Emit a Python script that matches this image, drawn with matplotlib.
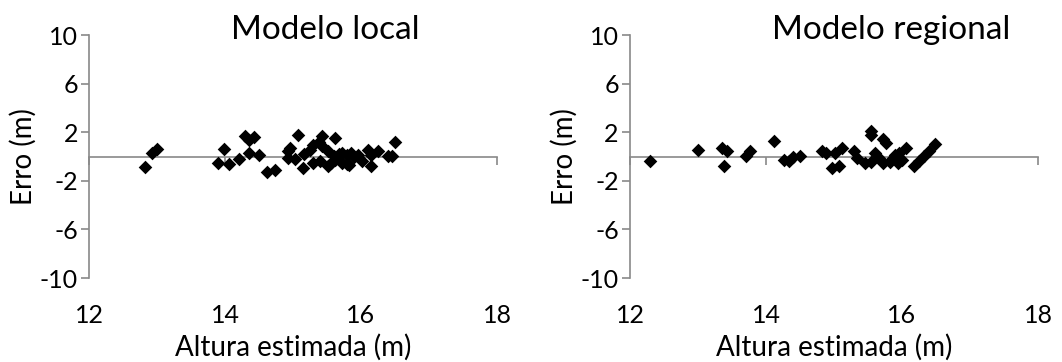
import matplotlib.pyplot as plt

plt.rcParams['font.family'] = ['Lato', 'DejaVu Sans']
plt.rcParams['axes.unicode_minus'] = False

# erro vs altura estimada, modelo local
alt_local = [12.82, 12.93, 13.0, 13.9, 13.98, 14.06, 14.2, 14.3, 14.36, 14.43,
             14.36, 14.5, 14.62, 14.74, 14.92, 14.92, 14.96, 15.08, 15.03, 15.14,
             15.16, 15.25, 15.3, 15.3, 15.42, 15.38, 15.42, 15.52, 15.4, 15.52,
             15.56, 15.62, 15.62, 15.6, 15.68, 15.72, 15.72, 15.8, 15.8, 15.86,
             15.82, 15.9, 15.96, 16.02, 16.1, 16.14, 16.15, 16.25, 16.4, 16.45,
             16.5]
erro_local = [-0.9, 0.3, 0.62, -0.5, 0.65, -0.6, -0.2, 1.7, 1.4, 1.62,
              0.3, 0.15, -1.3, -1.1, 0.45, -0.15, 0.7, 1.75, -0.22, -0.95,
              0.22, 0.55, 0.95, -0.55, 1.67, 1.2, 0.85, 0.45, -0.38, -0.8,
              -0.5, 1.55, -0.25, 0.05, 0.2, 0.3, -0.5, -0.6, 0.15, 0.3,
              -0.7, 0.0, 0.15, -0.38, 0.58, -0.75, 0.15, 0.42, 0.02, 0.05,
              1.18]

# erro vs altura estimada, modelo regional
alt_regional = [12.3, 13.0, 13.35, 13.42, 13.38, 13.7, 13.76, 14.12, 14.27, 14.34,
                14.4, 14.5, 14.82, 14.88, 15.02, 15.12, 14.97, 15.07, 15.3, 15.34,
                15.46, 15.55, 15.54, 15.72, 15.76, 15.6, 15.55, 15.66, 15.72, 15.84,
                15.9, 15.96, 16.06, 16.0, 15.82, 15.94, 16.18, 16.25, 16.32, 16.4,
                16.48]
erro_regional = [-0.4, 0.58, 0.72, 0.42, -0.75, 0.08, 0.42, 1.28, -0.25, -0.35,
                 -0.03, 0.08, 0.42, 0.3, 0.3, 0.7, -0.95, -0.8, 0.42, -0.1,
                 -0.55, 2.1, 1.75, 1.45, 1.12, 0.3, -0.45, -0.1, -0.55, -0.25,
                 0.15, 0.3, 0.7, -0.3, -0.45, -0.5, -0.8, -0.4, 0.03, 0.45,
                 1.0]

x_ticks = [12, 14, 16, 18]
y_ticks = [-10, -6, -2, 2, 6, 10]

cinza = '#898989'

fig = plt.figure(figsize=(10.62, 3.62), dpi=100)
ax1 = fig.add_axes([0.0838, 0.232, 0.3842, 0.671])
ax2 = fig.add_axes([0.5932, 0.232, 0.3842, 0.671])

paineis = [
    (ax1, alt_local, erro_local, 'Modelo local', 0.58),
    (ax2, alt_regional, erro_regional, 'Modelo regional', 0.64),
]

for ax, xs, ys, titulo, xt in paineis:
    ax.scatter(xs, ys, marker='D', s=48, color='black', linewidths=0, zorder=3)
    ax.set_xlim(12, 18)
    ax.set_ylim(-10, 10)

    # eixo vertical à esquerda, eixo horizontal passando pelo zero
    ax.spines['top'].set_visible(False)
    ax.spines['right'].set_visible(False)
    ax.spines['left'].set_color(cinza)
    ax.spines['left'].set_linewidth(1.2)
    ax.spines['bottom'].set_position(('data', 0))
    ax.spines['bottom'].set_color(cinza)
    ax.spines['bottom'].set_linewidth(1.2)

    ax.set_yticks(y_ticks)
    ax.set_xticks(x_ticks)
    ax.tick_params(axis='y', direction='out', length=6, width=1.2, color=cinza,
                   labelsize=18, pad=2)
    ax.tick_params(axis='x', direction='out', length=6, width=1.2, color=cinza,
                   labelbottom=False)

    # rótulos do eixo x ficam embaixo do gráfico
    sec = ax.secondary_xaxis('bottom')
    sec.set_xticks(x_ticks)
    sec.spines['bottom'].set_visible(False)
    sec.tick_params(length=0, labelsize=18, pad=19)
    sec.set_xlabel('Altura estimada (m)', fontsize=20, labelpad=5)

    ax.set_ylabel('Erro (m)', fontsize=20, labelpad=2)
    ax.text(xt, 1.02, titulo, transform=ax.transAxes, ha='center', va='center',
            fontsize=24)

fig.savefig('out.png', dpi=100)
